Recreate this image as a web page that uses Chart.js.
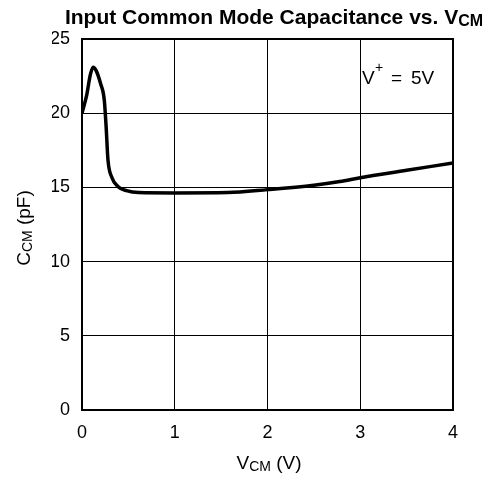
<!DOCTYPE html>
<html>
<head>
<meta charset="utf-8">
<style>
  html, body { margin: 0; padding: 0; background: #fff; }
  #wrap { width: 500px; height: 481px; }
</style>
<script src="https://cdn.jsdelivr.net/npm/chart.js"></script>
</head>
<body>
<div id="wrap"><canvas id="capChart" width="500" height="481"></canvas></div>
<script>
// common mode voltage (V) and input capacitance (pF)
const vcm = [0, 0.05, 0.09, 0.12, 0.15, 0.2, 0.24, 0.26, 0.28, 0.32, 0.39, 0.48, 0.61, 1.0, 1.57, 2.0, 2.5, 2.78, 3.0, 3.5, 4.0];
const ccm = [20, 21.2, 22.6, 23.1, 22.9, 22.0, 20.9, 19.1, 16.85, 15.7, 15.05, 14.78, 14.65, 14.63, 14.65, 14.85, 15.15, 15.4, 15.65, 16.15, 16.65];

const xTicks = [0, 1, 2, 3, 4];
const yTicks = [0, 5, 10, 15, 20, 25];

const FONT = "'Liberation Sans', Arial, Helvetica, sans-serif";

// text with a subscript part, e.g. V + CM
function drawSub(ctx, parts, x, y, align) {
  let total = 0;
  parts.forEach(p => { ctx.font = p.font; total += ctx.measureText(p.text).width; });
  let cx = align === 'center' ? x - total / 2 : x;
  parts.forEach(p => {
    ctx.font = p.font;
    ctx.fillText(p.text, cx, y + (p.dy || 0));
    cx += ctx.measureText(p.text).width;
  });
}

const labelsPlugin = {
  id: 'labels',
  afterDraw(chart) {
    const ctx = chart.ctx;
    const area = chart.chartArea;
    ctx.save();

    // heavier frame round the plot
    ctx.strokeStyle = '#000';
    ctx.lineWidth = 2;
    ctx.strokeRect(area.left, area.top, area.right - area.left, area.bottom - area.top);

    ctx.fillStyle = '#000';
    ctx.textAlign = 'left';
    ctx.textBaseline = 'alphabetic';

    // title
    drawSub(ctx, [
      { text: 'Input Common Mode Capacitance vs. V', font: 'bold 21px ' + FONT },
      { text: 'CM', font: 'bold 16px ' + FONT, dy: 2 }
    ], 274, 24, 'center');

    // x axis title
    drawSub(ctx, [
      { text: 'V', font: '19px ' + FONT },
      { text: 'CM', font: '14px ' + FONT, dy: 2 },
      { text: ' (V)', font: '19px ' + FONT }
    ], 269, 469, 'center');

    // y axis title
    ctx.save();
    ctx.translate(30, 228);
    ctx.rotate(-Math.PI / 2);
    drawSub(ctx, [
      { text: 'C', font: '19px ' + FONT },
      { text: 'CM', font: '14px ' + FONT, dy: 2 },
      { text: ' (pF)', font: '19px ' + FONT }
    ], 0, 0, 'center');
    ctx.restore();

    // supply note
    ctx.font = '19px ' + FONT;
    ctx.fillText('V', 362, 84);
    ctx.font = '14px ' + FONT;
    ctx.fillText('+', 375, 72);
    ctx.font = '19px ' + FONT;
    ctx.fillText('=', 391, 84);
    ctx.fillText('5V', 411, 84);

    ctx.restore();
  }
};

new Chart(document.getElementById('capChart'), {
  type: 'line',
  data: {
    datasets: [{
      data: vcm.map((v, i) => ({ x: v, y: ccm[i] })),
      borderColor: '#000',
      borderWidth: 3.5,
      pointRadius: 0,
      fill: false,
      cubicInterpolationMode: 'monotone'
    }]
  },
  options: {
    responsive: false,
    animation: false,
    layout: { padding: { left: 52, right: 47, top: 39, bottom: 41 } },
    plugins: { legend: { display: false }, tooltip: { enabled: false }, title: { display: false } },
    scales: {
      x: {
        type: 'linear',
        min: 0,
        max: 4,
        afterFit: s => { s.height = 30; },
        afterBuildTicks: s => { s.ticks = xTicks.map(v => ({ value: v })); },
        grid: { color: '#000', lineWidth: 1, drawTicks: false },
        border: { color: '#000', width: 2 },
        ticks: { color: '#000', font: { family: FONT, size: 18 }, padding: 12, maxRotation: 0 }
      },
      y: {
        min: 0,
        max: 25,
        afterFit: s => { s.width = 30; },
        afterBuildTicks: s => { s.ticks = yTicks.map(v => ({ value: v })); },
        grid: { color: '#000', lineWidth: 1, drawTicks: false },
        border: { color: '#000', width: 2 },
        ticks: { color: '#000', font: { family: FONT, size: 18 }, padding: 12 }
      }
    }
  },
  plugins: [labelsPlugin]
});
</script>
</body>
</html>
